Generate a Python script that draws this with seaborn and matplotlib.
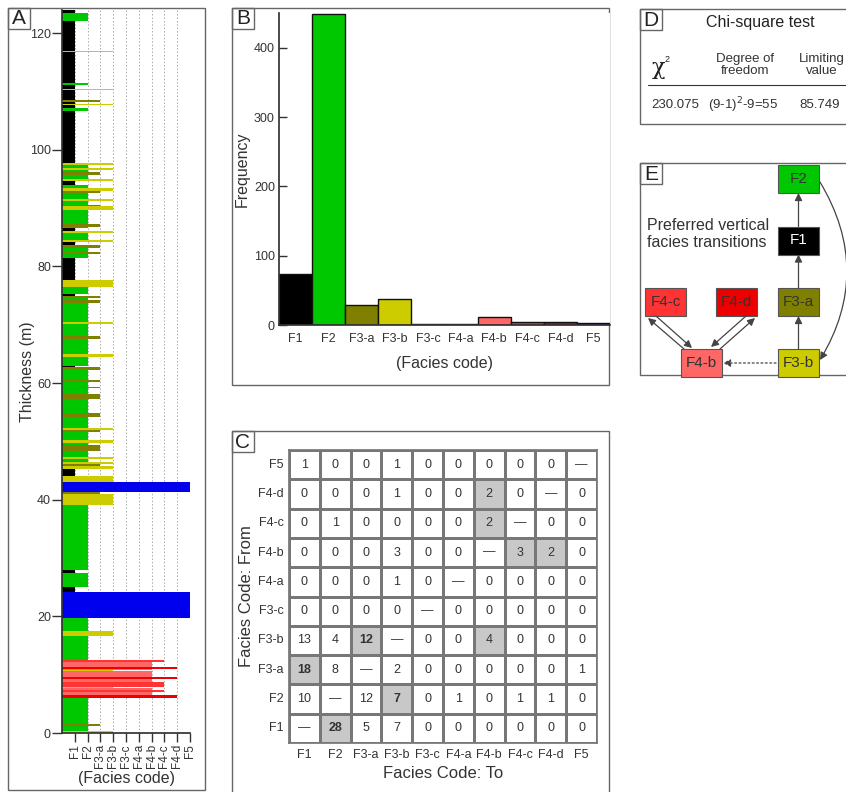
import numpy as np
import pandas as pd
import seaborn as sns
import matplotlib.pyplot as plt
from matplotlib.colors import ListedColormap
from matplotlib.patches import Rectangle, FancyArrowPatch

sns.set_theme(style='white')
plt.rcParams['font.family'] = ['Liberation Sans', 'DejaVu Sans']

# facies codes and colours
facies = ['F1', 'F2', 'F3-a', 'F3-b', 'F3-c', 'F4-a', 'F4-b', 'F4-c', 'F4-d', 'F5']
facies_colors = ['#000000', '#00c800', '#808000', '#cccc00', '#f4f4f4',
                 '#e8e8e8', '#ff6666', '#ff3333', '#ee0000', '#0000ee']

# panel A: measured log, bed base (m) and facies, from bottom to top
bed_base = [0.0, 0.3, 1.2, 1.5, 5.95, 6.6, 7.0, 7.4, 7.75, 7.85, 7.9, 8.7, 9.25, 9.65,
            10.6, 10.75, 11.0, 11.4, 12.1, 12.5, 16.6, 17.5, 19.7, 24.2, 25.0, 27.5,
            28.0, 39.1, 40.9, 41.3, 43.0, 44.1, 45.3, 45.7, 46.05, 46.4, 47.0, 47.4,
            48.3, 49.4, 49.8, 50.2, 51.6, 51.97, 52.35, 54.1, 54.8, 57.3, 58.1, 59.1,
            59.4, 60.1, 60.5, 62.2, 62.8, 63.0, 64.5, 64.9, 67.5, 68.1, 70.2, 70.5,
            73.8, 74.2, 74.6, 74.9, 75.2, 76.5, 77.7, 81.4, 82.1, 82.4, 83.2, 83.7,
            84.1, 84.5, 85.7, 86.1, 86.5, 86.8, 87.2, 89.65, 90.35, 90.6, 91.2, 91.5,
            92.6, 92.9, 93.5, 93.9, 94.7, 95.0, 95.7, 96.1, 96.5, 96.9, 97.3, 97.7,
            106.6, 107.1, 107.6, 107.8, 108.2, 108.5, 110.2, 110.4, 111.1, 111.5,
            116.7, 116.9, 122.0, 123.4, 123.9]
bed_top_end = 124.2
bed_facies = ['F3-b', 'F2', 'F3-a', 'F2', 'F4-d', 'F4-b', 'F4-c', 'F4-b', 'F3-b', 'F4-b',
              'F4-c', 'F4-b', 'F4-d', 'F4-b', 'F3-b', 'F4-b', 'F4-d', 'F4-b', 'F4-c', 'F2',
              'F3-b', 'F2', 'F5', 'F1', 'F2', 'F1', 'F2', 'F3-b', 'F3-a', 'F5', 'F3-b',
              'F1', 'F3-b', 'F3-a', 'F3-b', 'F2', 'F3-b', 'F2', 'F3-a', 'F2', 'F3-b', 'F2',
              'F3-a', 'F3-b', 'F2', 'F3-a', 'F2', 'F3-a', 'F2', 'F3-a', 'F2', 'F3-a', 'F2',
              'F3-a', 'F1', 'F2', 'F3-b', 'F2', 'F3-a', 'F2', 'F3-b', 'F2', 'F3-a', 'F2',
              'F3-a', 'F1', 'F2', 'F3-b', 'F1', 'F2', 'F3-a', 'F2', 'F3-a', 'F1', 'F3-b',
              'F2', 'F3-b', 'F1', 'F2', 'F3-a', 'F2', 'F3-b', 'F3-a', 'F2', 'F3-b', 'F2',
              'F3-a', 'F3-b', 'F2', 'F1', 'F3-b', 'F2', 'F3-a', 'F2', 'F3-b', 'F2', 'F3-b',
              'F1', 'F2', 'F1', 'F3-b', 'F1', 'F3-a', 'F1', 'F3-b', 'F1', 'F2', 'F1',
              'F3-b', 'F1', 'F2', 'F1', 'F3-b']

# panel B: frequency of each facies
frequency = [73, 448, 29, 38, 1, 2, 12, 4, 5, 3]

# panel C: transition count matrix (rows = from, cols = to), None = diagonal
transitions = [
    [None, 28, 5, 7, 0, 0, 0, 0, 0, 0],
    [10, None, 12, 7, 0, 1, 0, 1, 1, 0],
    [18, 8, None, 2, 0, 0, 0, 0, 0, 1],
    [13, 4, 12, None, 0, 0, 4, 0, 0, 0],
    [0, 0, 0, 0, None, 0, 0, 0, 0, 0],
    [0, 0, 0, 1, 0, None, 0, 0, 0, 0],
    [0, 0, 0, 3, 0, 0, None, 3, 2, 0],
    [0, 1, 0, 0, 0, 0, 2, None, 0, 0],
    [0, 0, 0, 1, 0, 0, 2, 0, None, 0],
    [1, 0, 0, 1, 0, 0, 0, 0, 0, None],
]
preferred = [('F1', 'F2'), ('F2', 'F3-b'), ('F3-a', 'F1'), ('F3-b', 'F3-a'), ('F3-b', 'F4-b'),
             ('F4-b', 'F4-c'), ('F4-b', 'F4-d'), ('F4-c', 'F4-b'), ('F4-d', 'F4-b')]
bold_cells = [('F1', 'F2'), ('F2', 'F3-b'), ('F3-a', 'F1'), ('F3-b', 'F3-a')]

# panel D: chi-square test
chi_square = '230.075'
dof_text = '(9-1)$^2$-9=55'
limiting = '85.749'

W, H = 846, 792
fig = plt.figure(figsize=(W / 100, H / 100), dpi=100)


def px_axes(x0, y0, x1, y1):
    return fig.add_axes([x0 / W, 1 - y1 / H, (x1 - x0) / W, (y1 - y0) / H])


dark = '#333333'
frame_c = '#666666'

# overlay for frames, panel letters, D and E
ov = fig.add_axes([0, 0, 1, 1])
ov.set_xlim(0, W)
ov.set_ylim(H, 0)
ov.axis('off')

frames = {'A': (8, 8, 205, 790), 'B': (232, 8, 609, 385), 'C': (232, 431, 609, 800),
          'D': (640, 9, 860, 124), 'E': (640, 163, 860, 375)}
for lab, (x0, y0, x1, y1) in frames.items():
    ov.add_patch(Rectangle((x0, y0), x1 - x0, y1 - y0, fill=False, ec=frame_c, lw=1))
    ov.add_patch(Rectangle((x0, y0), 22, 21, fill=False, ec=frame_c, lw=1))
    ov.text(x0 + 11, y0 + 11, lab, ha='center', va='center', fontsize=15, color='#222222')

# ---- panel A
axA = px_axes(62, 9.7, 190, 733)
idx = {f: i + 1 for i, f in enumerate(facies)}
tops = bed_base[1:] + [bed_top_end]
for b, t, f in zip(bed_base, tops, bed_facies):
    axA.barh(b, idx[f], height=t - b, left=0, align='edge',
             color=facies_colors[idx[f] - 1], lw=0)
for i in range(1, 11):
    axA.axvline(i, color='#aaaaaa', ls=(0, (1.5, 2)), lw=0.7, zorder=0)
axA.set_xlim(0, 10)
axA.set_ylim(0, 124)
axA.set_xticks(range(1, 11))
axA.set_xticklabels(facies, rotation=90, fontsize=8.5, color=dark)
axA.set_yticks(range(0, 121, 20))
axA.tick_params(axis='y', labelsize=9, colors=dark, length=7, width=1, pad=1, left=True)
axA.tick_params(axis='x', length=6.5, width=1, colors=dark, pad=1.5, bottom=True)
axA.spines[['top', 'right']].set_visible(False)
axA.spines[['left', 'bottom']].set_color(dark)
axA.set_xlabel('(Facies code)', fontsize=11.5, color=dark, labelpad=2)
axA.set_ylabel('Thickness (m)', fontsize=11.5, color=dark, labelpad=-4)

# ---- panel B
axB = px_axes(279, 13, 610, 325)
dfB = pd.DataFrame({'facies': facies, 'frequency': frequency})
sns.barplot(data=dfB, x='facies', y='frequency', hue='facies', palette=facies_colors,
            saturation=1, width=1.0, edgecolor='#111111', linewidth=1, legend=False, ax=axB)
axB.set_xlim(-0.5, 9.5)
axB.set_ylim(0, 450)
axB.set_yticks(range(0, 401, 100))
axB.tick_params(axis='y', labelsize=9, colors=dark, length=6, width=1, pad=3,
                direction='in', left=True)
axB.tick_params(axis='x', labelsize=9, colors=dark, length=0, pad=6)
axB.spines[['top', 'right']].set_visible(False)
axB.spines[['left', 'bottom']].set_color(dark)
axB.set_xlabel('(Facies code)', fontsize=11.5, color=dark, labelpad=8)
axB.set_ylabel('Frequency', fontsize=11.5, color=dark, labelpad=3)

# ---- panel C
axC = px_axes(289, 450, 597, 743)
rows = facies[::-1]
counts = pd.DataFrame(transitions, index=facies, columns=facies).reindex(rows)
labels = counts.map(lambda v: '\u2014' if pd.isna(v) else str(int(v)))
hl = pd.DataFrame(0, index=rows, columns=facies)
for fr, to in preferred:
    hl.loc[fr, to] = 1
sns.heatmap(hl, cmap=ListedColormap(['white', '#c8c8c8']), vmin=0, vmax=1, cbar=False,
            linewidths=1, linecolor='#777777', annot=labels.values, fmt='',
            annot_kws={'fontsize': 9, 'color': dark}, ax=axC)
for t in axC.texts:
    x, y = t.get_position()
    fr, to = rows[int(y)], facies[int(x)]
    if (fr, to) in bold_cells:
        t.set_fontweight('bold')
for s in axC.spines.values():
    s.set_visible(True)
    s.set_color('#777777')
axC.tick_params(length=0, labelsize=9, colors=dark, pad=4)
axC.set_yticklabels(rows, rotation=0)
axC.set_xticklabels(facies, rotation=0)
axC.set_xlabel('Facies Code: To', fontsize=12, color=dark, labelpad=4)
axC.set_ylabel('Facies Code: From', fontsize=12, color=dark, labelpad=3)

# ---- panel D
ov.text(760, 22, 'Chi-square test', ha='center', va='center', fontsize=11.5, color='#222222')
ov.text(658, 68, '\u03c7', ha='center', va='center', fontsize=16, color='#222222',
        family='DejaVu Serif')
ov.text(665, 60, '2', ha='left', va='center', fontsize=6.5, color='#222222')
ov.text(745, 65, 'Degree of\nfreedom', ha='center', va='center', fontsize=9.5,
        color=dark, linespacing=1.1)
ov.text(822, 65, 'Limiting\nvalue', ha='center', va='center', fontsize=9.5,
        color=dark, linespacing=1.1)
ov.plot([648, 846], [85, 85], color=dark, lw=0.8)
ov.text(675, 105, chi_square, ha='center', va='center', fontsize=9.5, color=dark)
ov.text(743, 105, dof_text, ha='center', va='center', fontsize=9.5, color=dark)
ov.text(820, 105, limiting, ha='center', va='center', fontsize=9.5, color=dark)

# ---- panel E
box_pos = {'F2': (798.5, 179), 'F1': (798.5, 240.5), 'F3-a': (798.5, 302),
           'F3-b': (798.5, 363), 'F4-b': (701.5, 363), 'F4-c': (665.5, 302),
           'F4-d': (736.5, 302)}
bw, bh = 41, 28
for f, (cx, cy) in box_pos.items():
    c = facies_colors[idx[f] - 1]
    ov.add_patch(Rectangle((cx - bw / 2, cy - bh / 2), bw, bh, fc=c, ec='#555555', lw=0.8))
    ov.text(cx, cy, f, ha='center', va='center', fontsize=11,
            color='white' if f == 'F1' else '#333333')
ov.text(647, 234, 'Preferred vertical\nfacies transitions', ha='left', va='center',
        fontsize=11.5, color='#333333', linespacing=1.1)


def arrow(p0, p1, ls='-', rad=0.0):
    ov.add_patch(FancyArrowPatch(p0, p1, arrowstyle='-|>', mutation_scale=11,
                                 color='#444444', lw=0.9, ls=ls,
                                 connectionstyle=f'arc3,rad={rad}', shrinkA=0, shrinkB=0))


arrow((798.5, 349), (798.5, 316))
arrow((798.5, 288), (798.5, 254.5))
arrow((798.5, 226.5), (798.5, 193))
arrow((820, 182), (820, 360), rad=-0.3)
arrow((776, 363), (723, 363), ls=(0, (1.5, 2)))
arrow((684, 349), (648, 318))
arrow((656, 316), (692, 348))
arrow((720, 349), (755, 318))
arrow((746, 316), (711, 347))

fig.savefig('out.png', dpi=100)
